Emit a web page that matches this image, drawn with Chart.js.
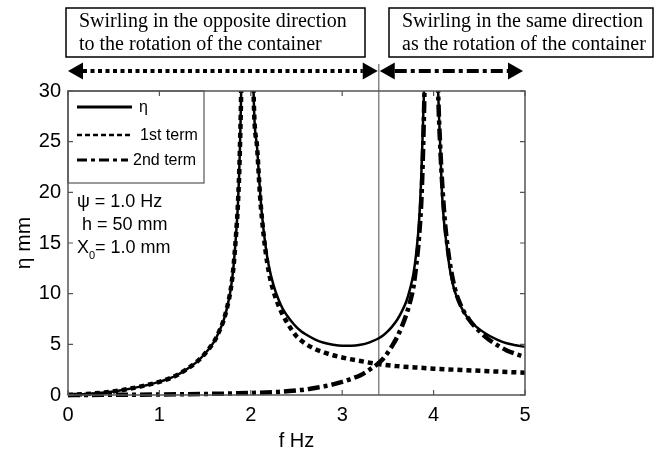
<!DOCTYPE html>
<html>
<head>
<meta charset="utf-8">
<script src="https://cdn.jsdelivr.net/npm/chart.js@4.4.0/dist/chart.umd.min.js"></script>
<style>
    html, body { margin: 0; padding: 0; background: #fff; }
    canvas { display: block; }
</style>
</head>
<body>
<canvas id="grafico" width="659" height="451"></canvas>
<script>
// eixos
const xTicks = [0, 1, 2, 3, 4, 5];
const yTicks = [0, 5, 10, 15, 20, 25, 30];
const fronteiraF = 3.4; // linha vertical entre os dois regimes

// eta (linha cheia)
const etaF = [0, 0.2, 0.4, 0.6, 0.8, 1.0, 1.1, 1.2, 1.3, 1.4, 1.5, 1.6, 1.65, 1.7, 1.74, 1.78, 1.81, 1.84, 1.86, 1.88, 1.9, 1.93, 1.99, 2.03, 2.07, 2.1, 2.12, 2.16, 2.2, 2.25, 2.3, 2.35, 2.4, 2.45, 2.5, 2.55, 2.6, 2.7, 2.8, 2.9, 3.0, 3.1, 3.2, 3.3, 3.4, 3.45, 3.5, 3.55, 3.6, 3.65, 3.7, 3.74, 3.78, 3.81, 3.84, 3.865, 3.885, 3.9, 3.93, 4.0, 4.05, 4.07, 4.09, 4.11, 4.14, 4.18, 4.22, 4.27, 4.33, 4.4, 4.5, 4.6, 4.7, 4.8, 4.9, 5.0];
const etaV = [0, 0.1, 0.25, 0.5, 0.85, 1.3, 1.6, 2.0, 2.55, 3.2, 4.1, 5.3, 6.2, 7.3, 8.6, 10.4, 12.6, 16, 19, 24, 33, 60, 60, 30, 24.3, 20.2, 18.0, 14.8, 12.6, 10.8, 9.5, 8.5, 7.8, 7.2, 6.7, 6.3, 6.0, 5.5, 5.15, 4.95, 4.85, 4.85, 4.95, 5.2, 5.6, 5.9, 6.3, 6.8, 7.4, 8.2, 9.2, 10.4, 12.0, 14.0, 17.0, 21.5, 27, 32, 50, 50, 30, 25.2, 20.3, 17.5, 15.0, 12.3, 10.6, 9.3, 8.2, 7.3, 6.5, 5.9, 5.45, 5.1, 4.9, 4.75];

// 1o termo (pontilhado)
const termo1F = [0, 0.2, 0.4, 0.6, 0.8, 1.0, 1.1, 1.2, 1.3, 1.4, 1.5, 1.6, 1.65, 1.7, 1.74, 1.78, 1.81, 1.84, 1.86, 1.88, 1.9, 1.93, 1.99, 2.03, 2.07, 2.1, 2.12, 2.16, 2.2, 2.25, 2.3, 2.35, 2.4, 2.45, 2.5, 2.6, 2.7, 2.8, 2.9, 3.0, 3.2, 3.4, 3.6, 3.8, 4.0, 4.3, 4.6, 5.0];
const termo1V = [0, 0.1, 0.25, 0.5, 0.85, 1.3, 1.6, 2.0, 2.55, 3.2, 4.1, 5.3, 6.2, 7.3, 8.6, 10.4, 12.6, 16, 19, 24, 33, 60, 60, 30, 24.3, 19.8, 17.6, 14.3, 12.0, 10.2, 8.9, 7.9, 7.1, 6.4, 5.8, 5.05, 4.55, 4.2, 3.92, 3.7, 3.35, 3.05, 2.85, 2.72, 2.6, 2.47, 2.35, 2.2];

// 2o termo (traco-ponto)
const termo2F = [0, 0.5, 1.0, 1.5, 2.0, 2.3, 2.5, 2.6, 2.7, 2.8, 2.9, 3.0, 3.1, 3.2, 3.3, 3.4, 3.45, 3.5, 3.55, 3.6, 3.65, 3.7, 3.74, 3.78, 3.81, 3.84, 3.87, 3.89, 3.91, 3.94, 3.99, 4.02, 4.05, 4.07, 4.1, 4.13, 4.17, 4.23, 4.3, 4.4, 4.5, 4.6, 4.7, 4.8, 4.9, 5.0];
const termo2V = [0, 0.02, 0.05, 0.1, 0.2, 0.3, 0.45, 0.55, 0.7, 0.85, 1.05, 1.3, 1.6, 1.95, 2.5, 3.15, 3.6, 4.2, 4.9, 5.7, 6.7, 7.9, 9.1, 10.7, 12.8, 15.5, 20, 26, 35, 60, 60, 45, 30, 25, 20, 16.5, 13.5, 10.6, 8.8, 7.3, 6.3, 5.5, 4.9, 4.4, 4.05, 3.75];

const legendaTextos = ["η", "1st term", "2nd term"];
const caixaEsq = ["Swirling in the opposite direction", "to the rotation of the container"];
const caixaDir = ["Swirling in the same direction", "as the rotation of the container"];

const SANS = '"Liberation Sans", Arial, sans-serif';
const SERIF = '"Liberation Serif", "Times New Roman", serif';

const DASH_T1 = [5, 4];
const DASH_T2 = [12, 4, 4, 4];

function pontos(xs, ys) {
    return xs.map((x, i) => ({ x: x, y: ys[i] }));
}

function seta(ctx, x1, x2, y, dash) {
    const L = 15, H = 8.5;
    ctx.save();
    ctx.strokeStyle = "#000";
    ctx.fillStyle = "#000";
    ctx.lineWidth = 4;
    ctx.setLineDash(dash);
    ctx.beginPath();
    ctx.moveTo(x1 + L, y);
    ctx.lineTo(x2 - L, y);
    ctx.stroke();
    ctx.setLineDash([]);
    ctx.beginPath();
    ctx.moveTo(x1, y); ctx.lineTo(x1 + L, y - H); ctx.lineTo(x1 + L, y + H); ctx.closePath();
    ctx.fill();
    ctx.beginPath();
    ctx.moveTo(x2, y); ctx.lineTo(x2 - L, y - H); ctx.lineTo(x2 - L, y + H); ctx.closePath();
    ctx.fill();
    ctx.restore();
}

function caixa(ctx, x1, x2, linhas) {
    ctx.save();
    ctx.lineWidth = 1.5;
    ctx.strokeStyle = "#000";
    ctx.strokeRect(x1, 8, x2 - x1, 49);
    ctx.fillStyle = "#000";
    ctx.font = "20px " + SERIF;
    ctx.textBaseline = "alphabetic";
    ctx.fillText(linhas[0], x1 + 13, 27);
    ctx.fillText(linhas[1], x1 + 13, 50);
    ctx.restore();
}

const decoracaoPlugin = {
    id: "decoracao",
    beforeDatasetsDraw(chart) {
        const ctx = chart.ctx;
        const xf = chart.scales.x.getPixelForValue(fronteiraF);
        ctx.save();
        ctx.strokeStyle = "#888";
        ctx.lineWidth = 1.5;
        ctx.beginPath();
        ctx.moveTo(xf, 64);
        ctx.lineTo(xf, chart.chartArea.bottom);
        ctx.stroke();
        ctx.restore();
    },
    afterDatasetsDraw(chart) {
        const ctx = chart.ctx;
        const { left, top } = chart.chartArea;

        // caixa da legenda
        ctx.save();
        ctx.fillStyle = "#fff";
        ctx.fillRect(left, top, 136, 92);
        ctx.strokeStyle = "#555";
        ctx.lineWidth = 1.2;
        ctx.strokeRect(left, top, 136, 92);

        const amostras = [
            { y: 107, w: 3, dash: [], x2: 132, tx: 139 },
            { y: 135, w: 2.5, dash: [5, 3], x2: 132, tx: 140 },
            { y: 160, w: 3, dash: [10, 4, 4, 4], x2: 128, tx: 133 }
        ];
        ctx.fillStyle = "#000";
        ctx.font = "16px " + SANS;
        ctx.textBaseline = "middle";
        amostras.forEach((a, i) => {
            ctx.strokeStyle = "#000";
            ctx.lineWidth = a.w;
            ctx.setLineDash(a.dash);
            ctx.beginPath();
            ctx.moveTo(left + 9, a.y);
            ctx.lineTo(a.x2, a.y);
            ctx.stroke();
            ctx.fillText(legendaTextos[i], a.tx, a.y + 1);
        });
        ctx.setLineDash([]);

        // parametros
        ctx.font = "18px " + SANS;
        ctx.textBaseline = "alphabetic";
        ctx.fillText("ψ = 1.0 Hz", 77, 207);
        ctx.fillText("h = 50 mm", 82, 230);
        ctx.fillText("X", 77, 253);
        const wX = ctx.measureText("X").width;
        ctx.font = "11px " + SANS;
        ctx.fillText("0", 77 + wX, 259);
        ctx.font = "18px " + SANS;
        ctx.fillText("= 1.0 mm", 77 + wX + 6, 253);
        ctx.restore();
    },
    afterDraw(chart) {
        const ctx = chart.ctx;
        const { left, right, top, bottom } = chart.chartArea;
        const sx = chart.scales.x, sy = chart.scales.y;

        // moldura e ticks internos
        ctx.save();
        ctx.strokeStyle = "#555";
        ctx.lineWidth = 1.5;
        ctx.strokeRect(left, top, right - left, bottom - top);
        ctx.lineWidth = 1.2;
        ctx.beginPath();
        xTicks.forEach(v => {
            const px = sx.getPixelForValue(v);
            ctx.moveTo(px, bottom); ctx.lineTo(px, bottom - 5);
            ctx.moveTo(px, top); ctx.lineTo(px, top + 5);
        });
        yTicks.forEach(v => {
            const py = sy.getPixelForValue(v);
            ctx.moveTo(left, py); ctx.lineTo(left + 5, py);
            ctx.moveTo(right, py); ctx.lineTo(right - 5, py);
        });
        ctx.stroke();
        ctx.restore();

        // caixas e setas
        caixa(ctx, 66, 365, caixaEsq);
        caixa(ctx, 389, 653, caixaDir);
        const xf = sx.getPixelForValue(fronteiraF);
        seta(ctx, sx.getPixelForValue(0), xf - 1, 71, [4, 3.5]);
        seta(ctx, xf + 1, sx.getPixelForValue(5) - 2, 71, DASH_T2);
    }
};

const recorte = { left: 0, top: 0, right: 0, bottom: 5 };

new Chart(document.getElementById("grafico"), {
    type: "line",
    data: {
        datasets: [
            {
                label: "η",
                data: pontos(etaF, etaV),
                borderColor: "#000",
                borderWidth: 2.5,
                pointRadius: 0,
                cubicInterpolationMode: "monotone",
                clip: recorte
            },
            {
                label: "1st term",
                data: pontos(termo1F, termo1V),
                borderColor: "#000",
                borderWidth: 4.5,
                borderDash: DASH_T1,
                pointRadius: 0,
                cubicInterpolationMode: "monotone",
                clip: recorte
            },
            {
                label: "2nd term",
                data: pontos(termo2F, termo2V),
                borderColor: "#000",
                borderWidth: 4.5,
                borderDash: DASH_T2,
                pointRadius: 0,
                cubicInterpolationMode: "monotone",
                clip: recorte
            }
        ]
    },
    options: {
        responsive: false,
        animation: false,
        layout: { padding: { top: 91, right: 134, left: 0, bottom: 0 } },
        plugins: {
            legend: { display: false },
            tooltip: { enabled: false }
        },
        scales: {
            x: {
                type: "linear",
                min: 0,
                max: 5,
                afterFit: s => { s.height = 56; },
                afterBuildTicks: s => { s.ticks = xTicks.map(v => ({ value: v })); },
                grid: { display: false, drawTicks: false },
                border: { display: false },
                ticks: { color: "#000", font: { family: SANS, size: 20 }, padding: 8, maxRotation: 0 },
                title: { display: true, text: "f Hz", color: "#000", font: { family: SANS, size: 20, lineHeight: 1 }, padding: { top: 0, bottom: 0 } }
            },
            y: {
                type: "linear",
                min: 0,
                max: 30,
                afterFit: s => { s.width = 68; },
                afterBuildTicks: s => { s.ticks = yTicks.map(v => ({ value: v })); },
                grid: { display: false, drawTicks: false },
                border: { display: false },
                ticks: { color: "#000", font: { family: SANS, size: 20 }, padding: 7 },
                title: { display: true, text: "η mm", color: "#000", font: { family: SANS, size: 21 }, padding: { top: 12, bottom: 0 } }
            }
        }
    },
    plugins: [decoracaoPlugin]
});
</script>
</body>
</html>
